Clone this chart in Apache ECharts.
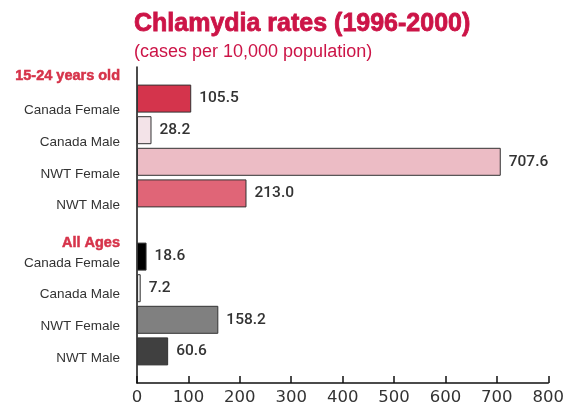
<!DOCTYPE html>
<html>
<head>
<meta charset="utf-8">
<script src="https://cdn.jsdelivr.net/npm/echarts@6/dist/echarts.min.js"></script>
<style>
  html, body { margin: 0; padding: 0; background: #fff; }
  #chart { width: 567px; height: 406px; }
</style>
</head>
<body>
<div id="chart"></div>
<script>
// chart data
var groups = ['15-24 years old', 'All Ages'];
var subgroups = ['Canada Female', 'Canada Male', 'NWT Female', 'NWT Male'];
var youthValues = [105.5, 28.2, 707.6, 213.0];
var allAgesValues = [18.6, 7.2, 158.2, 60.6];
var xTicks = [0, 100, 200, 300, 400, 500, 600, 700, 800];

var youthColors = ['#d4344c', '#f3e3e8', '#ecbcc5', '#e06577'];
var allAgesColors = ['#000000', '#e8e8e8', '#808080', '#404040'];

// categories: group header, its four rows, next header, ..., one blank at the end
var categories = [];
var barData = [];
[[youthValues, youthColors], [allAgesValues, allAgesColors]].forEach(function (g, gi) {
  categories.push(groups[gi]);
  barData.push(null);
  subgroups.forEach(function (name, i) {
    categories.push(name);
    barData.push({ value: g[0][i], itemStyle: { color: g[1][i] } });
  });
});
categories.push('');
barData.push(null);

var red = '#cc1447';
var headStyle = {
  fontFamily: 'Liberation Sans', fontWeight: 'bold', fontSize: 14.5, color: '#d6334a',
  textBorderColor: '#d6334a', textBorderWidth: 0.5
};

var chart = echarts.init(document.getElementById('chart'));
chart.setOption({
  animation: false,
  title: {
    text: 'Chlamydia rates (1996-2000)',
    subtext: '(cases per 10,000 population)',
    left: 129,
    top: 7,
    itemGap: 5,
    textStyle: {
      fontFamily: 'Liberation Sans', fontWeight: 'bold', fontSize: 25, color: red,
      textBorderColor: red, textBorderWidth: 0.8
    },
    subtextStyle: { fontFamily: 'Liberation Sans', fontSize: 18, color: red }
  },
  grid: { left: 137, right: 16, top: 67, bottom: 23, containLabel: false },
  xAxis: {
    type: 'value',
    min: xTicks[0],
    max: xTicks[xTicks.length - 1],
    interval: 100,
    splitLine: { show: false },
    axisLine: { show: true, lineStyle: { color: '#111', width: 1.5 } },
    axisTick: { show: true, inside: true, length: 7, lineStyle: { color: '#111', width: 1.5 } },
    axisLabel: { margin: 6, fontFamily: 'DejaVu Sans', fontSize: 16.5, color: '#333' }
  },
  yAxis: {
    type: 'category',
    data: categories,
    inverse: true,
    boundaryGap: false,
    axisLine: { show: true, lineStyle: { color: '#111', width: 1.5 } },
    axisTick: { show: false },
    axisLabel: {
      interval: 0,
      margin: 17,
      formatter: function (v, i) {
        if (i === 0) return '{h1|' + v + '}';
        if (i === 5) return '{h2|' + v + '}';
        if (i < 5) return '{a|' + v + '}';
        return '{b|' + v + '}';
      },
      rich: {
        h1: Object.assign({ padding: [18, 0, 0, 0] }, headStyle),
        h2: Object.assign({ padding: [36, 0, 0, 0] }, headStyle),
        a: { fontFamily: 'Liberation Sans', fontSize: 13.5, color: '#333', padding: [24, 0, 0, 0] },
        b: { fontFamily: 'Liberation Sans', fontSize: 13.5, color: '#333', padding: [13, 0, 0, 0] }
      }
    }
  },
  series: [{
    type: 'bar',
    data: barData,
    barWidth: 28,
    itemStyle: { borderColor: '#333', borderWidth: 1 },
    label: {
      show: true,
      position: 'right',
      distance: 8,
      fontFamily: 'Roboto',
      fontWeight: 500,
      fontSize: 15.5,
      color: '#333',
      formatter: function (p) { return p.value.toFixed(1); }
    }
  }]
});
</script>
</body>
</html>
